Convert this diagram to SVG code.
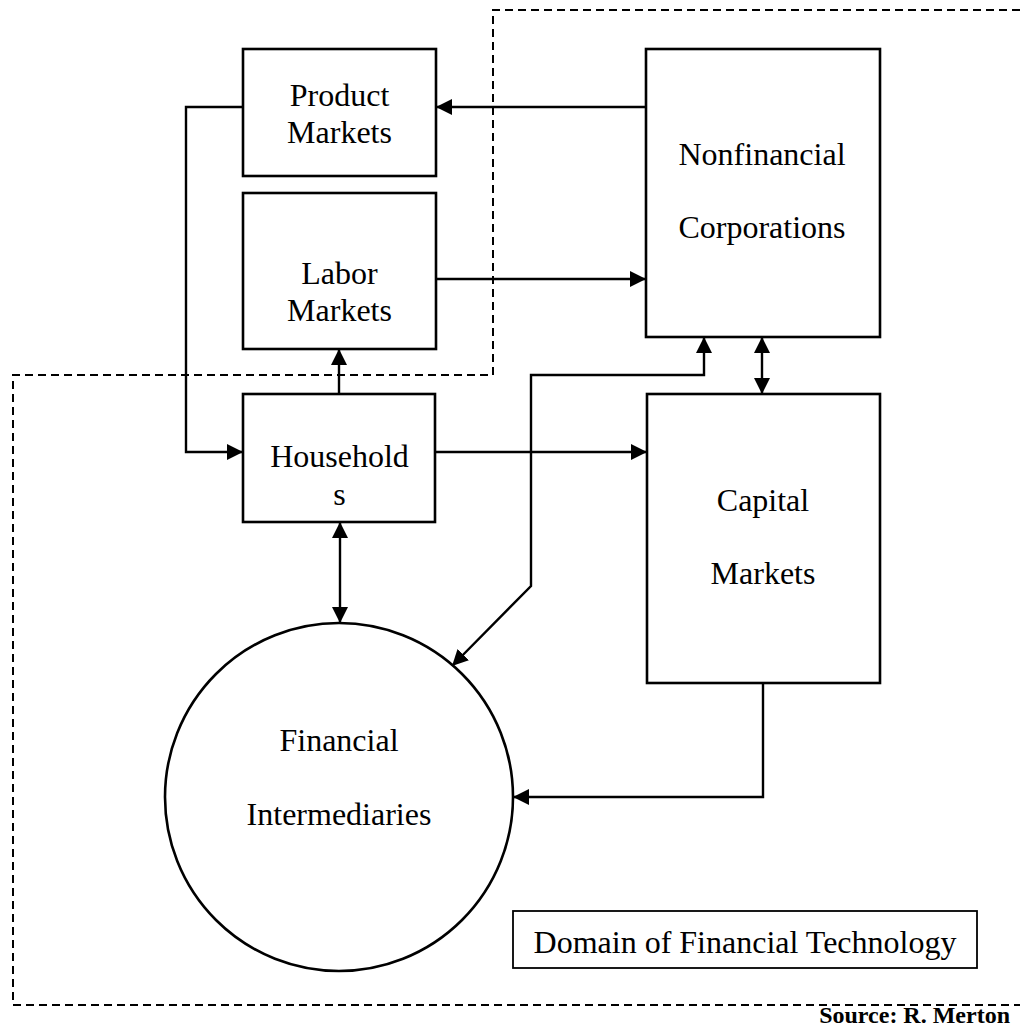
<svg xmlns="http://www.w3.org/2000/svg" width="1020" height="1027" viewBox="0 0 1020 1027">
<style>
.box{fill:#fff;stroke:#000;stroke-width:2.6}
.lbl{font-family:"Liberation Serif","Times New Roman",serif;font-size:32px;fill:#000;text-anchor:middle}
.con{fill:none;stroke:#000;stroke-width:2.4}
.dash{fill:none;stroke:#000;stroke-width:2;stroke-dasharray:8,5}
</style>
<defs>
<marker id="ah" markerUnits="userSpaceOnUse" markerWidth="16" markerHeight="16" viewBox="0 0 15 15" refX="15" refY="7.5" orient="auto-start-reverse">
<path d="M0,0 L15,7.5 L0,15 z" fill="#000"/>
</marker>
</defs>
<rect width="1020" height="1027" fill="#fff"/>
<g id="domain-boundary">
<path class="dash" d="M1020,10 H493 V375 H13 V1005 H1020"/>
</g>
<g id="connectors">
<path class="con" d="M646,107 H436" marker-end="url(#ah)"/>
<path class="con" d="M243,107 H186 V452 H243" marker-end="url(#ah)"/>
<path class="con" d="M436,279 H646" marker-end="url(#ah)"/>
<path class="con" d="M339,394 V349" marker-end="url(#ah)"/>
<path class="con" d="M435,452 H647" marker-end="url(#ah)"/>
<path class="con" d="M762,337 V394" marker-start="url(#ah)" marker-end="url(#ah)"/>
<path class="con" d="M340,522 V623" marker-start="url(#ah)" marker-end="url(#ah)"/>
<path class="con" d="M704,337 V375 H531 V586 L452,666" marker-start="url(#ah)" marker-end="url(#ah)"/>
<path class="con" d="M763,683 V797 H513" marker-end="url(#ah)"/>
</g>
<g id="product-markets">
<rect class="box" x="243" y="49" width="193" height="127"/>
<text class="lbl" x="339.5" y="106">Product</text>
<text class="lbl" x="339.5" y="143">Markets</text>
</g>
<g id="labor-markets">
<rect class="box" x="243" y="193" width="193" height="156"/>
<text class="lbl" x="339.5" y="284">Labor</text>
<text class="lbl" x="339.5" y="321">Markets</text>
</g>
<g id="nonfinancial-corporations">
<rect class="box" x="646" y="49" width="234" height="288"/>
<text class="lbl" x="762" y="165">Nonfinancial</text>
<text class="lbl" x="762" y="238">Corporations</text>
</g>
<g id="households">
<rect class="box" x="243" y="394" width="192" height="128"/>
<text class="lbl" x="339.5" y="467">Household</text>
<text class="lbl" x="339.5" y="505">s</text>
</g>
<g id="capital-markets">
<rect class="box" x="647" y="394" width="233" height="289"/>
<text class="lbl" x="763" y="511">Capital</text>
<text class="lbl" x="763" y="584">Markets</text>
</g>
<g id="financial-intermediaries">
<circle class="box" cx="339" cy="797" r="174"/>
<text class="lbl" x="339" y="751">Financial</text>
<text class="lbl" x="339" y="825">Intermediaries</text>
</g>
<g id="legend">
<rect x="513" y="911" width="464" height="57" fill="#fff" stroke="#000" stroke-width="1.8"/>
<text class="lbl" x="745" y="953">Domain of Financial Technology</text>
</g>
<g id="source">
<text x="1010" y="1023" font-family="'Liberation Serif','Times New Roman',serif" font-size="24" font-weight="bold" text-anchor="end">Source: R. Merton</text>
</g>
</svg>
